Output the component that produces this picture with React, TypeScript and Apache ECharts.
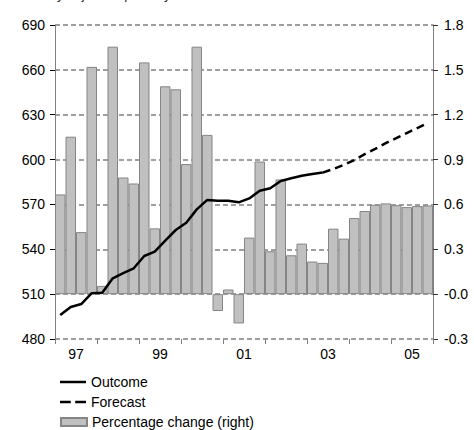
import React, { useEffect, useRef } from "react";
import * as echarts from "echarts";

const years = ["97", "98", "99", "00", "01", "02", "03", "04", "05"];
const quarters = ["Q1", "Q2", "Q3", "Q4"];

const outcome = [
  496, 501.4, 503.4, 510.6, 511, 520.6, 524, 527.3, 535.5, 538.4, 545.8, 552.9,
  557.8, 566.7, 573, 572.5, 572.5, 571.4, 574, 579.2, 580.8, 585.7, 587.5, 589.2,
  590.4, 591.3,
];
const forecast = [
  591.3, 593.7, 596.4, 599.7, 603.6, 607.1, 611, 614.3, 617.7, 621.1, 624.4,
];
const pctChange = [
  0.667, 1.053, 0.415, 1.52, 0.055, 1.655, 0.78, 0.74, 1.55, 0.44, 1.39, 1.37,
  0.87, 1.655, 1.065, -0.113, 0.031, -0.196, 0.378, 0.887, 0.287, 0.767, 0.26,
  0.338, 0.218, 0.209, 0.438, 0.371, 0.509, 0.556, 0.598, 0.607, 0.595, 0.582,
  0.589, 0.593,
];

const leftMin = 480;
const leftMax = 690;
const leftStep = 30;
const rightMin = -0.3;
const rightMax = 1.8;
const rightStep = 0.3;

const titleText = "Seasonally adjusted quarterly volumes";

export default function App() {
  const ref = useRef<HTMLDivElement>(null);

  useEffect(() => {
    if (!ref.current) return;
    const chart = echarts.init(ref.current, null, { renderer: "svg" });

    const categories: string[] = [];
    years.forEach((y) => quarters.forEach((q) => categories.push(y + q)));

    const outcomeData = categories.map((_, i) =>
      i < outcome.length ? outcome[i] : null
    );
    const forecastStart = outcome.length - 1;
    const forecastData = categories.map((_, i) =>
      i >= forecastStart && i - forecastStart < forecast.length
        ? forecast[i - forecastStart]
        : null
    );

    const font = "'Liberation Sans', Arial, sans-serif";
    const grey = "#808080";
    const legendText = { fontSize: 14, color: "#000", fontFamily: font };

    chart.setOption({
      animation: false,
      backgroundColor: "#ffffff",
      textStyle: { fontFamily: font },
      graphic: [
        {
          type: "text",
          left: 0,
          top: -12,
          style: {
            text: titleText,
            fontSize: 13,
            fontFamily: font,
            fill: "#222",
          },
        },
      ],
      grid: {
        left: 55,
        right: 41,
        top: 25,
        height: 314,
        containLabel: false,
        outerBoundsMode: "none",
      },
      legend: [
        {
          left: 60,
          top: 375,
          padding: 0,
          itemWidth: 26,
          itemHeight: 2.5,
          symbolKeepAspect: false,
          textStyle: legendText,
          data: [{ name: "Outcome", icon: "rect" }],
        },
        {
          left: 60,
          top: 395,
          padding: 0,
          itemWidth: 26,
          itemHeight: 2.5,
          symbolKeepAspect: false,
          textStyle: legendText,
          data: [
            {
              name: "Forecast",
              icon: "path://M0,0h11v1h-11zM15.5,0h11v1h-11z",
            },
          ],
        },
        {
          left: 60,
          top: 415,
          padding: 0,
          itemWidth: 26,
          itemHeight: 8,
          symbolKeepAspect: false,
          textStyle: legendText,
          data: [{ name: "Percentage change (right)", icon: "rect" }],
        },
      ],
      xAxis: [
        {
          type: "category",
          data: categories,
          position: "bottom",
          boundaryGap: true,
          axisLine: { show: false },
          axisTick: { show: false },
          axisLabel: { show: false },
          splitLine: { show: false },
        },
        {
          type: "category",
          data: years,
          position: "bottom",
          boundaryGap: true,
          axisLine: { show: false },
          axisTick: {
            show: true,
            interval: 0,
            length: 5,
            lineStyle: { color: grey, width: 1 },
          },
          axisLabel: {
            interval: 1,
            fontSize: 14,
            color: "#000",
            margin: 8,
            fontFamily: font,
          },
          splitLine: { show: false },
        },
      ],
      yAxis: [
        {
          type: "value",
          position: "left",
          min: leftMin,
          max: leftMax,
          interval: leftStep,
          axisLine: { show: true, lineStyle: { color: grey, width: 1 } },
          axisTick: {
            show: true,
            length: 5,
            lineStyle: { color: "#000", width: 1 },
          },
          axisLabel: {
            fontSize: 14,
            color: "#000",
            margin: 10,
            fontFamily: font,
          },
          splitLine: {
            show: true,
            lineStyle: { color: grey, width: 1.5, type: [5, 3] },
          },
        },
        {
          type: "value",
          position: "right",
          min: rightMin,
          max: rightMax,
          interval: rightStep,
          axisLine: { show: true, lineStyle: { color: grey, width: 1 } },
          axisTick: {
            show: true,
            length: 5,
            lineStyle: { color: "#333", width: 1 },
          },
          axisLabel: {
            fontSize: 14,
            color: "#000",
            margin: 11,
            fontFamily: font,
            formatter: (v: number) =>
              Math.abs(v) < 1e-9 ? "-0.0" : v.toFixed(1),
          },
          splitLine: { show: false },
        },
      ],
      series: [
        {
          name: "Percentage change (right)",
          type: "bar",
          xAxisIndex: 0,
          yAxisIndex: 1,
          data: pctChange,
          barCategoryGap: "0%",
          itemStyle: {
            color: "#c0c0c0",
            borderColor: "#858585",
            borderWidth: 1,
          },
        },
        {
          name: "Outcome",
          type: "line",
          xAxisIndex: 0,
          yAxisIndex: 0,
          data: outcomeData,
          symbol: "none",
          lineStyle: { color: "#000", width: 2.5 },
          itemStyle: { color: "#000" },
          z: 5,
        },
        {
          name: "Forecast",
          type: "line",
          xAxisIndex: 0,
          yAxisIndex: 0,
          data: forecastData,
          symbol: "none",
          lineStyle: { color: "#000", width: 2.5, type: [8, 5] },
          itemStyle: { color: "#000" },
          z: 5,
        },
      ],
    });

    return () => chart.dispose();
  }, []);

  return (
    <div
      ref={ref}
      style={{ position: "absolute", left: 0, top: 0, width: 474, height: 430 }}
    />
  );
}
